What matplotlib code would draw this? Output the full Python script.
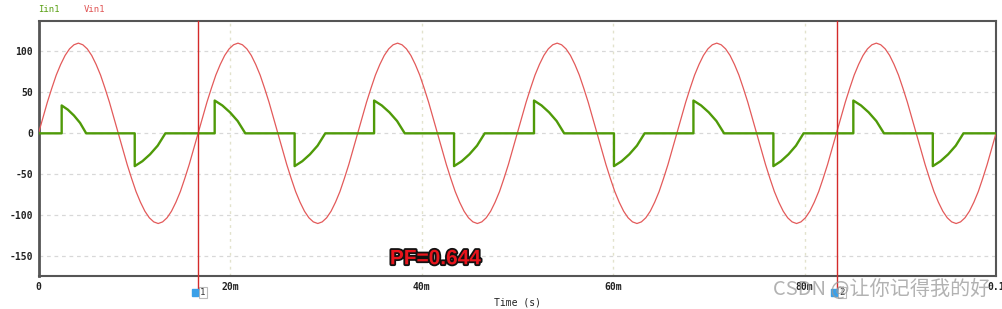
import numpy as np
import matplotlib
matplotlib.use("Agg")
import matplotlib.pyplot as plt
import matplotlib.patheffects as pe
from matplotlib.patches import Rectangle

plt.rcParams['axes.unicode_minus'] = False

# Vin1: one period, every 10 degrees (V), period 16.67 ms
vin_cycle = [0, 19, 38, 55, 71, 84, 95, 103, 108, 110, 108, 103, 95, 84, 71, 55, 38, 19,
             0, -19, -38, -55, -71, -84, -95, -103, -108, -110, -108, -103, -95, -84, -71, -55, -38, -19]
period_ms = 16.667
n_cycles = 6

# Iin1: current pulses (start ms, end ms, jump height)
pulse_start = [2.42, 10.05, 18.4, 26.75, 35.05, 43.4, 51.75, 60.1, 68.4, 76.75, 85.1, 93.4]
pulse_end = [4.98, 13.25, 21.6, 29.95, 38.25, 46.6, 54.9, 63.3, 71.6, 79.9, 88.3, 96.6]
pulse_height = [34, -40, 40, -40, 40, -40, 40, -40, 40, -40, 40, -40]
# decay profile of a pulse (fraction of duration, fraction of height)
decay_u = [0, 0.25, 0.5, 0.75, 0.88, 1]
decay_f = [1, 0.85, 0.64, 0.375, 0.18, 0]

cursor_ms = [16.66, 83.4]
xticks = [0, 0.02, 0.04, 0.06, 0.08, 0.1]
xticklabels = ["0", "20m", "40m", "60m", "80m", "0.1"]
yticks = [100, 50, 0, -50, -100, -150]

# build traces
vin = np.array(vin_cycle * n_cycles + [0])
t_vin = np.arange(len(vin)) * period_ms / len(vin_cycle) / 1000

t_i, v_i = [0], [0]
for s, e, h in zip(pulse_start, pulse_end, pulse_height):
    t_i.append(s); v_i.append(0)
    for u, f in zip(decay_u, decay_f):
        t_i.append(s + u * (e - s)); v_i.append(h * f)
t_i.append(100); v_i.append(0)
t_i = np.array(t_i) / 1000

fig = plt.figure(figsize=(10.02, 3.09), dpi=100)
ax = fig.add_axes([38.5/1002, 33/309, (996-38.5)/1002, (276-21)/309])

ax.plot(t_vin, vin, color='#e35a5a', lw=0.9, zorder=3)
ax.plot(t_i, v_i, color='#4f9a08', lw=1.7, zorder=4)

ax.set_xlim(0, 0.1)
ax.set_ylim(-174, 137)
ax.set_xticks(xticks)
ax.set_xticklabels(xticklabels)
ax.set_yticks(yticks)
ax.tick_params(length=0, labelsize=7, pad=4, colors='#222222')
for lab in ax.get_xticklabels() + ax.get_yticklabels():
    lab.set_family('DejaVu Sans Mono')
    lab.set_weight('bold')
ax.grid(axis='y', color='#d8d8d8', ls=(0, (3, 3)), lw=0.9)
ax.grid(axis='x', color='#e2e2cc', ls=(0, (2, 3)), lw=1.0)
for side in ['left', 'bottom', 'top', 'right']:
    ax.spines[side].set_color('#555555')
    ax.spines[side].set_linewidth(1.5)
ax.spines['left'].set_linewidth(2)

ax.set_xlabel('Time (s)', family='DejaVu Sans Mono', fontsize=7, labelpad=4, color='#222222')

# cursors
for k, c in enumerate(cursor_ms):
    x = c / 1000
    ax.plot([x, x], [1.0, -0.05], transform=ax.get_xaxis_transform(),
            color='#d42a2a', lw=1.0, clip_on=False, zorder=5)
    ax.add_patch(Rectangle((x - 0.0006, -0.08), 0.0006, 0.03,
                           transform=ax.get_xaxis_transform(), color='#3aa0e8',
                           clip_on=False, zorder=6))
    ax.text(x + 0.0002, -0.065, str(k + 1), transform=ax.get_xaxis_transform(),
            fontsize=6.5, family='DejaVu Sans Mono', va='center', ha='left', color='#333333',
            bbox=dict(boxstyle='square,pad=0.15', fc='white', ec='#bbbbbb', lw=0.8))

# legend
fig.text(38/1002, 1 - 10/309, 'Iin1', color='#5aa014', fontsize=6.5,
         family='DejaVu Sans Mono', va='center')
fig.text(84/1002, 1 - 10/309, 'Vin1', color='#e05555', fontsize=6.5,
         family='DejaVu Sans Mono', va='center')

# annotation
ax.text(0.0367, -153, 'PF=0.644', fontsize=15, weight='bold', family='Liberation Sans',
        color='#e8141c', va='center', ha='left', zorder=7,
        path_effects=[pe.withStroke(linewidth=2.6, foreground='#111111')])

# watermark
fig.text(990/1002, 1 - 289/309, 'CSDN @让你记得我的好', fontsize=14.5,
         family=['Noto Sans CJK SC', 'DejaVu Sans'], color='#999999', alpha=0.75,
         ha='right', va='center')

fig.savefig('out.png', dpi=100)
